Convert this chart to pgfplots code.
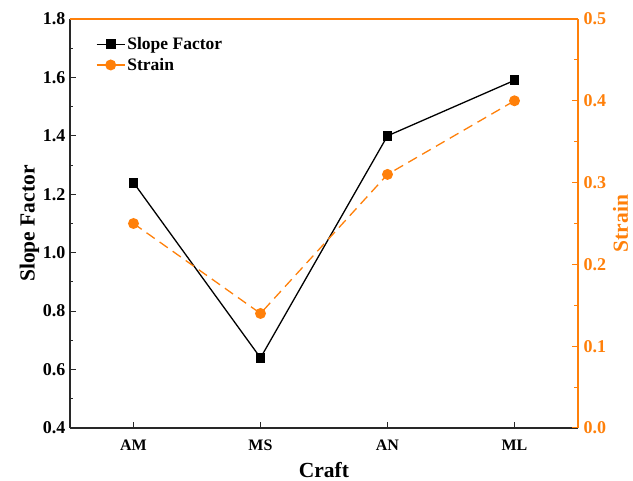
\documentclass[border=0pt]{standalone}
\usepackage{fontspec}
\setmainfont{Liberation Serif}
\usepackage{pgfplots}
\pgfplotsset{compat=1.18}
\definecolor{strainorange}{RGB}{255,128,10}
\definecolor{axisgray}{RGB}{40,40,40}

\pgfplotsset{
  common/.style={
    scale only axis, width=508pt, height=409pt,
    xmin=-0.5, xmax=3.5,
    major tick length=6pt, minor tick length=3.5pt,
    every tick/.style={line width=1pt},
    axis line style={line width=1.1pt},
    /pgf/number format/.cd, fixed, fixed zerofill, precision=1, assume math mode=true,
  },
}

\begin{document}
\begin{tikzpicture}
% left axis: slope factor
\begin{axis}[
  common,
  ymin=0.4, ymax=1.8,
  axis y line*=left, axis x line*=bottom,
  xtick align=inside, ytick align=inside,
  axis line style={axisgray},
  every tick/.append style={axisgray},
  xtick={0,1,2,3}, xticklabels={AM,MS,AN,ML},
  ytick={0.4,0.6,...,1.8},
  minor y tick num=1,
  xticklabel style={font=\fontsize{16}{16}\selectfont\bfseries, yshift=-8pt},
  yticklabel style={font=\fontsize{18}{18}\selectfont\bfseries, xshift=-1pt},
  xlabel={Craft}, ylabel={Slope Factor},
  xlabel style={font=\fontsize{21.5}{21.5}\selectfont\bfseries, yshift=-5pt},
  ylabel style={font=\fontsize{21.5}{21.5}\selectfont\bfseries, yshift=-3pt},
  legend style={at={(0.045,0.965)}, anchor=north west, draw=none, fill=none,
    font=\fontsize{17.5}{18}\selectfont\bfseries, row sep=3pt},
  legend cell align=left,
  legend image code/.code={\draw[mark repeat=2,mark phase=2]
    plot coordinates {(0pt,0pt)(14pt,0pt)(28pt,0pt)};},
]
\addplot[black, line width=1.3pt, mark=square*, mark size=4.3pt,
  mark options={solid}]
  coordinates {(0,1.24) (1,0.64) (2,1.40) (3,1.59)};
\addlegendentry{Slope Factor}
\addlegendimage{strainorange, line width=1.3pt, mark=*, mark size=4.8pt}
\addlegendentry{Strain}
\end{axis}

% right axis: strain
\begin{axis}[
  common,
  ymin=0, ymax=0.5,
  axis y line*=right, axis x line*=top,
  xtick align=inside, ytick align=inside,
  axis line style={strainorange},
  every tick/.append style={strainorange},
  xtick=\empty,
  ytick={0,0.1,...,0.5},
  minor y tick num=1,
  yticklabel style={font=\fontsize{18}{18}\selectfont\bfseries, text=strainorange, xshift=2pt},
  ylabel={Strain},
  ylabel style={font=\fontsize{21.5}{21.5}\selectfont\bfseries, text=strainorange, yshift=0pt},
]
\addplot[strainorange, line width=1.3pt, dash pattern=on 10pt off 6pt,
  mark=*, mark size=4.8pt, mark options={solid}]
  coordinates {(0,0.25) (1,0.14) (2,0.31) (3,0.40)};
\end{axis}

% fixed page frame around the plot area
\pgfresetboundingbox
\useasboundingbox (-70pt,-53pt) rectangle (563pt,428pt);
\end{tikzpicture}
\end{document}
